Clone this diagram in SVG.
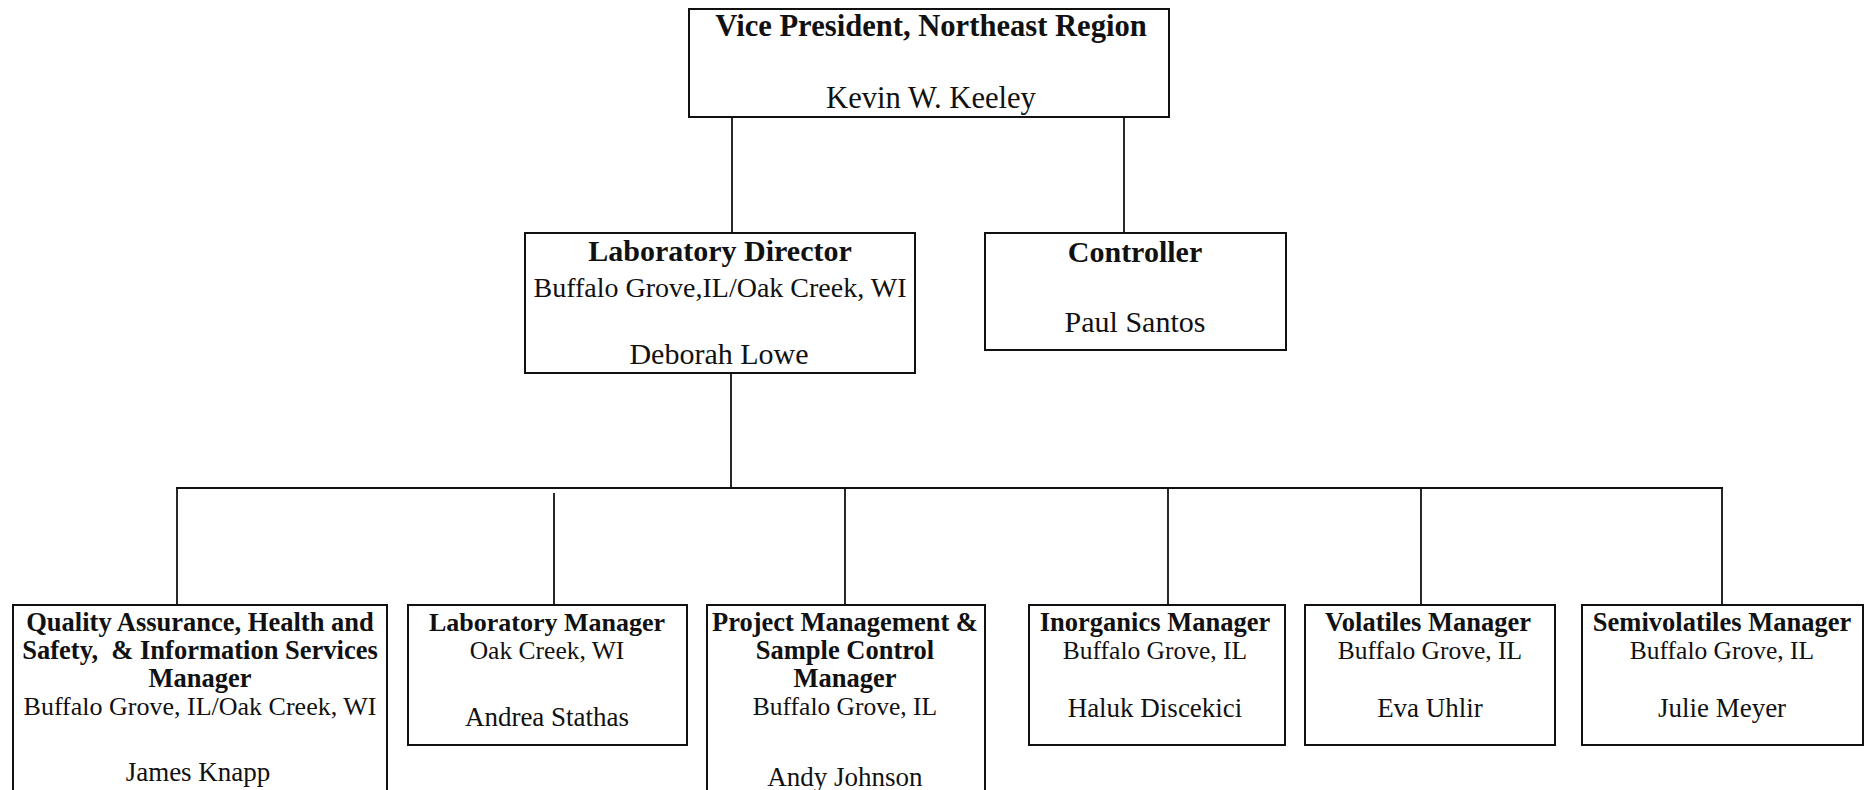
<svg xmlns="http://www.w3.org/2000/svg" width="1871" height="790" viewBox="0 0 1871 790">
<style>
.box{fill:#fff;stroke:#111;stroke-width:2}
.ln{stroke:#111;stroke-width:1.8;fill:none}
text{font-family:"Liberation Serif","Times New Roman",serif;fill:#111;text-anchor:middle}
.t1{font-size:30px;font-weight:bold}
.n1{font-size:30px}
.l1{font-size:28px}
.t2{font-size:26.5px;font-weight:bold}
.l2{font-size:25.5px}
.n2{font-size:27px}
</style>
<rect width="1871" height="790" fill="#fff"/>
<g id="connectors">
<line class="ln" x1="732" y1="117" x2="732" y2="233"/>
<line class="ln" x1="1124" y1="117" x2="1124" y2="233"/>
<line class="ln" x1="731" y1="373" x2="731" y2="488"/>
<line class="ln" x1="176" y1="488" x2="1723" y2="488"/>
<line class="ln" x1="177" y1="488" x2="177" y2="605"/>
<line class="ln" x1="554" y1="493" x2="554" y2="605"/>
<line class="ln" x1="845" y1="488" x2="845" y2="605"/>
<line class="ln" x1="1168" y1="488" x2="1168" y2="605"/>
<line class="ln" x1="1421" y1="488" x2="1421" y2="605"/>
<line class="ln" x1="1722" y1="488" x2="1722" y2="605"/>
</g>
<g id="vp">
<rect class="box" x="689" y="9" width="480" height="108"/>
<text class="t1" x="931" y="36" style="font-size:30.6px">Vice President, Northeast Region</text>
<text class="n1" x="931" y="108" style="font-size:30.6px">Kevin W. Keeley</text>
</g>
<g id="labdirector">
<rect class="box" x="525" y="233" width="390" height="140"/>
<text class="t1" x="720" y="261">Laboratory Director</text>
<text class="l1" x="720" y="297">Buffalo Grove,IL/Oak Creek, WI</text>
<text class="n1" x="719" y="364">Deborah Lowe</text>
</g>
<g id="controller">
<rect class="box" x="985" y="233" width="301" height="117"/>
<text class="t1" x="1135" y="262">Controller</text>
<text class="n1" x="1135" y="332">Paul Santos</text>
</g>
<g id="qa">
<rect class="box" x="13" y="605" width="374" height="195"/>
<text class="t2" x="200" y="631">Quality Assurance, Health and</text>
<text class="t2" x="200" y="659" xml:space="preserve">Safety,  &amp; Information Services</text>
<text class="t2" x="200" y="687">Manager</text>
<text class="l2" x="200" y="715" style="font-size:26px">Buffalo Grove, IL/Oak Creek, WI</text>
<text class="n2" x="198" y="781">James Knapp</text>
</g>
<g id="labmanager">
<rect class="box" x="408" y="605" width="279" height="140"/>
<text class="t2" x="547" y="631" style="font-size:26px">Laboratory Manager</text>
<text class="l2" x="547" y="659">Oak Creek, WI</text>
<text class="n2" x="547" y="726">Andrea Stathas</text>
</g>
<g id="pm">
<rect class="box" x="707" y="605" width="278" height="195"/>
<text class="t2" x="845" y="631">Project Management &amp;</text>
<text class="t2" x="845" y="659">Sample Control</text>
<text class="t2" x="845" y="687">Manager</text>
<text class="l2" x="845" y="715">Buffalo Grove, IL</text>
<text class="n2" x="845" y="786">Andy Johnson</text>
</g>
<g id="inorganics">
<rect class="box" x="1029" y="605" width="256" height="140"/>
<text class="t2" x="1155" y="631">Inorganics Manager</text>
<text class="l2" x="1155" y="659">Buffalo Grove, IL</text>
<text class="n2" x="1155" y="717">Haluk Discekici</text>
</g>
<g id="volatiles">
<rect class="box" x="1305" y="605" width="250" height="140"/>
<text class="t2" x="1428" y="631">Volatiles Manager</text>
<text class="l2" x="1430" y="659">Buffalo Grove, IL</text>
<text class="n2" x="1430" y="717">Eva Uhlir</text>
</g>
<g id="semivolatiles">
<rect class="box" x="1582" y="605" width="281" height="140"/>
<text class="t2" x="1722" y="631">Semivolatiles Manager</text>
<text class="l2" x="1722" y="659">Buffalo Grove, IL</text>
<text class="n2" x="1722" y="717">Julie Meyer</text>
</g>
</svg>
